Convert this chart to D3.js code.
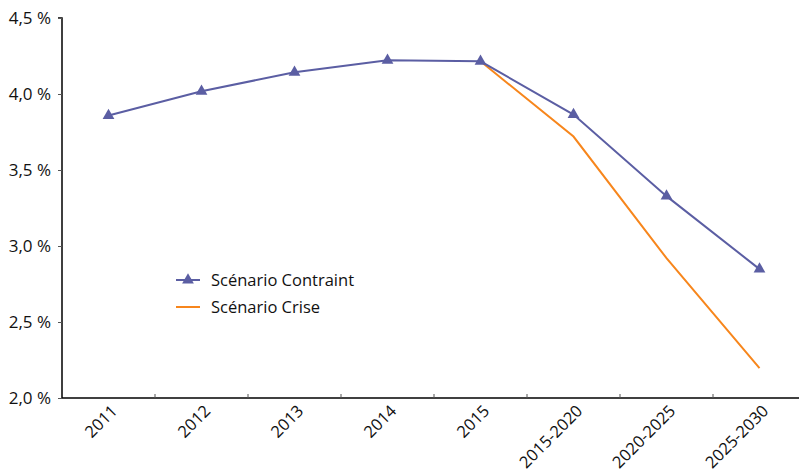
<!DOCTYPE html>
<html>
<head>
<meta charset="utf-8">
<script src="https://cdn.jsdelivr.net/npm/d3@7"></script>
<style>
  body { margin: 0; background: #fff; }
  svg { font-family: "Open Sans", "Noto Sans", sans-serif; }
</style>
</head>
<body>
<svg id="chart" width="799" height="475"></svg>
<script>
// Categories and series
const categories = ["2011", "2012", "2013", "2014", "2015", "2015-2020", "2020-2025", "2025-2030"];
const contraint = [3.858, 4.018, 4.143, 4.222, 4.215, 3.865, 3.328, 2.848];
const crise = [null, null, null, null, 4.215, 3.72, 2.92, 2.197];
const yTicks = [2.0, 2.5, 3.0, 3.5, 4.0, 4.5];
const seriesNames = ["Scénario Contraint", "Scénario Crise"];
const colors = ["#5b5ea3", "#f7861c"];

const margin = { left: 62, top: 18, bottom: 77 };
const svg = d3.select("#chart");
const height = +svg.attr("height");

// band scale runs past the right edge, like the original crop
const x = d3.scaleBand().domain(categories).range([margin.left, 806]);
const y = d3.scaleLinear().domain([2.0, 4.5]).range([height - margin.bottom, margin.top]);

// y axis
const yAxis = d3.axisLeft(y)
    .tickValues(yTicks)
    .tickSize(4)
    .tickPadding(7)
    .tickFormat((d) => d3.format(".1f")(d).replace(".", ",") + " %");
svg.append("g")
    .attr("transform", `translate(${margin.left},0)`)
    .attr("font-size", 17)
    .call(yAxis)
    .call((g) => g.attr("font-size", 17).attr("font-family", "'Open Sans', sans-serif"))
    .call((g) => g.select(".domain").attr("d", `M-4,${y(4.5)}H0V${y(2.0)}`).attr("stroke", "#000").attr("stroke-width", 1.5))
    .call((g) => g.selectAll(".tick line").attr("stroke", "#555"))
    .selectAll("text")
    .attr("fill", "#111");

// x axis: ticks between bands, pointing up
const xAxisG = svg.append("g")
    .attr("transform", `translate(0,${y(2.0)})`);
xAxisG.append("line")
    .attr("x1", margin.left).attr("x2", 799)
    .attr("stroke", "#000").attr("stroke-width", 1.5);
xAxisG.selectAll(".tk")
    .data(categories.slice(1))
    .enter().append("line")
    .attr("class", "tk")
    .attr("x1", (d) => x(d)).attr("x2", (d) => x(d))
    .attr("y1", 0).attr("y2", -4)
    .attr("stroke", "#555");
xAxisG.selectAll("text")
    .data(categories)
    .enter().append("text")
    .attr("text-anchor", "end")
    .attr("transform", (d) => `translate(${x(d) + x.bandwidth() / 2 + 10},${14}) rotate(-45)`)
    .attr("font-size", 16.5)
    .attr("fill", "#111")
    .text((d) => d);

// lines
const line = d3.line()
    .defined((d) => d != null)
    .x((d, i) => x(categories[i]) + x.bandwidth() / 2)
    .y((d) => y(d));

svg.append("path")
    .datum(crise)
    .attr("fill", "none")
    .attr("stroke", colors[1])
    .attr("stroke-width", 2)
    .attr("d", line);

svg.append("path")
    .datum(contraint)
    .attr("fill", "none")
    .attr("stroke", colors[0])
    .attr("stroke-width", 2)
    .attr("d", line);

const tri = d3.symbol().type(d3.symbolTriangle).size(60);
svg.selectAll(".mk")
    .data(contraint)
    .enter().append("path")
    .attr("class", "mk")
    .attr("d", tri)
    .attr("fill", colors[0])
    .attr("transform", (d, i) => `translate(${x(categories[i]) + x.bandwidth() / 2},${y(d)})`);

// legend
const legend = svg.append("g").attr("transform", "translate(176,280)");
seriesNames.forEach((name, i) => {
    const g = legend.append("g").attr("transform", `translate(0,${i * 27})`);
    g.append("line").attr("x1", 0).attr("x2", 24)
        .attr("stroke", colors[i]).attr("stroke-width", 2);
    if (i === 0) {
        g.append("path").attr("d", tri).attr("fill", colors[0]).attr("transform", "translate(12,0)");
    }
    g.append("text").attr("x", 35).attr("y", 6)
        .attr("font-size", 16.5).attr("fill", "#111")
        .text(name);
});
</script>
</body>
</html>
